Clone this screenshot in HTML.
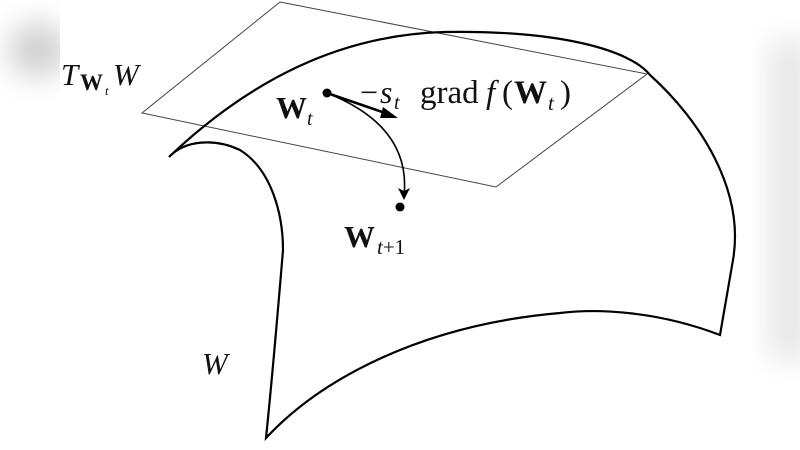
<!DOCTYPE html>
<html><head><meta charset="utf-8"><style>
html,body{margin:0;padding:0;background:#fff;}
svg{display:block;}
text{font-family:"Liberation Serif",serif;fill:#111;}
</style></head><body>
<svg width="800" height="450" viewBox="0 0 800 450" xmlns="http://www.w3.org/2000/svg">
<defs>
<filter id="bl" x="-50%" y="-50%" width="200%" height="200%"><feGaussianBlur stdDeviation="14"/></filter>
<clipPath id="lc"><rect x="0" y="0" width="60" height="115"/></clipPath>
<clipPath id="rc"><rect x="740" y="0" width="60" height="450"/></clipPath>
</defs>
<g clip-path="url(#lc)"><ellipse cx="38" cy="50" rx="30" ry="28" fill="#d2d2d2" filter="url(#bl)"/></g>
<g clip-path="url(#rc)"><rect x="770" y="40" width="40" height="320" fill="#e6e6e6" filter="url(#bl)"/></g>
<polygon points="280,2 647,74 496,187 142,113" fill="none" stroke="#444" stroke-width="1"/>
<path d="M169,157 C250,80 340,35 444,32 C560,30 630,50 650,75 C700,120 745,190 733,260 L720,335 C660,312 600,308 560,313 C420,325 320,380 266,438 C272,380 278,310 283,250 C283,215 272,170 240,150 C215,138 185,140 169,157 Z" fill="none" stroke="#000" stroke-width="2.2" stroke-linejoin="miter"/>
<circle cx="327" cy="93" r="4.5" fill="#000"/>
<line x1="327" y1="93" x2="388" y2="114" stroke="#000" stroke-width="2.6"/>
<polygon points="398,118 383,107 380,118" fill="#000"/>
<path d="M327,93 C370,110 410,140 404,196" fill="none" stroke="#000" stroke-width="1.6"/>
<polygon points="404,200 398,188 404,191 410,188" fill="#000"/>
<circle cx="400" cy="207" r="4.5" fill="#000"/>
<text x="61" y="85" font-size="31" font-style="italic">T</text>
<text x="80" y="90" font-size="23" font-weight="bold">W</text>
<text x="105" y="95" font-size="13" font-style="italic">t</text>
<text x="113" y="85" font-size="31" font-style="italic">W</text>
<text x="276" y="118" font-size="31" font-weight="bold">W</text>
<text x="307" y="125" font-size="20" font-style="italic">t</text>
<text x="360" y="103" font-size="32">−</text>
<text x="380" y="103" font-size="32" font-style="italic">s</text>
<text x="394" y="109" font-size="20" font-style="italic">t</text>
<text x="420" y="103" font-size="33">grad</text>
<text x="486" y="103" font-size="33" font-style="italic">f</text>
<text x="502" y="103" font-size="33">(</text>
<text x="514" y="103" font-size="33" font-weight="bold">W</text>
<text x="548" y="110" font-size="21" font-style="italic">t</text>
<text x="560" y="103" font-size="33">)</text>
<text x="344" y="247" font-size="31" font-weight="bold">W</text>
<text x="377" y="254" font-size="21"><tspan font-style="italic">t</tspan>+1</text>
<text x="202" y="374" font-size="31" font-style="italic">W</text>
</svg>
</body></html>
